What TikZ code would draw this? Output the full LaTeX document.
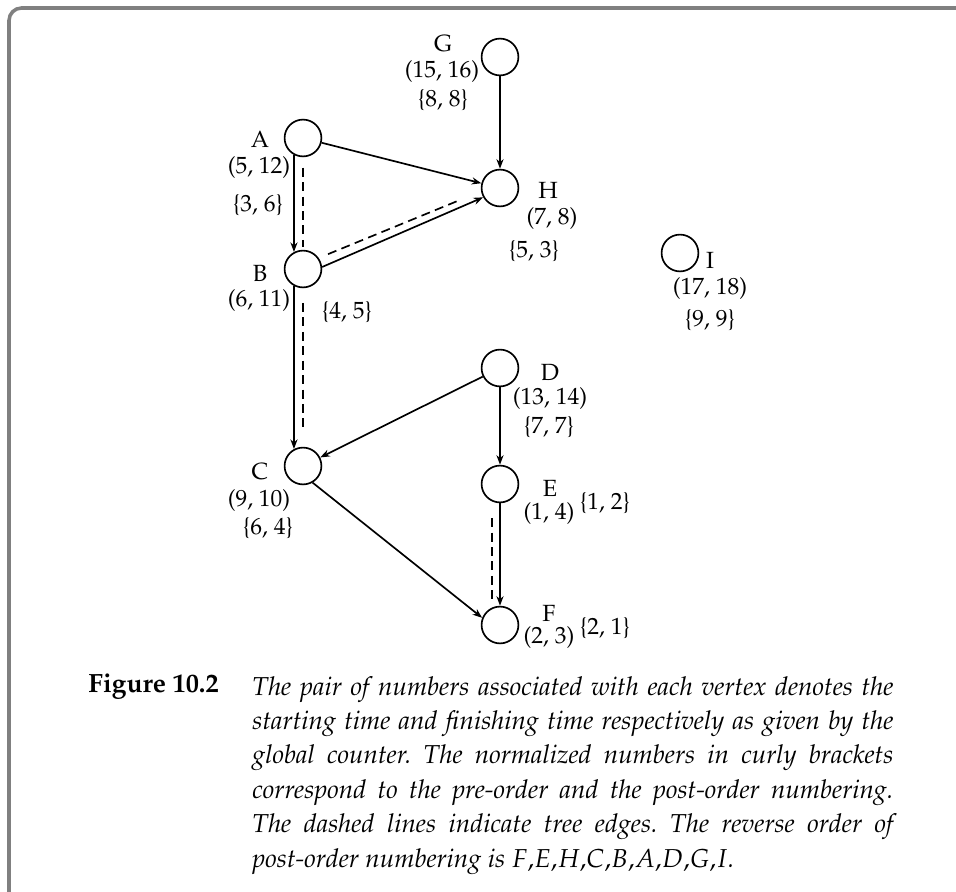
\documentclass[tikz,border=0pt]{standalone}
\usepackage[T1]{fontenc}
\usepackage{mathpazo}
\usetikzlibrary{arrows.meta}
\frenchspacing
\definecolor{framegrey}{HTML}{808080}
\tikzset{
  >={Stealth[length=4.6pt,width=3.4pt]},
  vertex/.style={draw,circle,line width=0.8pt,minimum size=17.6pt,inner sep=0pt},
  lbl/.style={inner sep=0pt,font=\fontsize{11.2}{13}\selectfont},
  arc/.style={->,line width=0.8pt},
  tree/.style={line width=0.8pt,dash pattern=on 4.3pt off 2.6pt},
  boxline/.style={draw=framegrey,line width=1.7pt,rounded corners=6pt},
  caption/.style={inner sep=0pt,text width=306.4pt,align=justify,
                  font=\fontsize{12.4}{16.44}\selectfont\itshape},
}

\begin{document}
\begin{tikzpicture}[x=0.478pt,y=-0.478pt]
  \useasboundingbox (0,0) rectangle (956,892);
  \draw[boxline] (9,892) -- (9,8) -- (956,8);

  % vertices
  \node[vertex] (G) at (500,57) {};
  \node[vertex] (A) at (303,138) {};
  \node[vertex] (H) at (500,188) {};
  \node[vertex] (B) at (303,269) {};
  \node[vertex] (I) at (680,253) {};
  \node[vertex] (D) at (500,368) {};
  \node[vertex] (C) at (303,466) {};
  \node[vertex] (E) at (500,484) {};
  \node[vertex] (F) at (500,625) {};

  % (start, finish) and {pre, post}
  \node[lbl] (Gname) at (443,44) {G};
  \node[lbl] (Gtime) at (442,71) {(15, 16)};
  \node[lbl] (Gord) at (443,100) {\{8, 8\}};
  \node[lbl] (Aname) at (260,139) {A};
  \node[lbl] (Atime) at (259,167) {(5, 12)};
  \node[lbl] (Aord) at (258,205) {\{3, 6\}};
  \node[lbl] (Hname) at (548,190) {H};
  \node[lbl] (Htime) at (552,218) {(7, 8)};
  \node[lbl] (Hord) at (534,251) {\{5, 3\}};
  \node[lbl] (Bname) at (260,273) {B};
  \node[lbl] (Btime) at (259,300) {(6, 11)};
  \node[lbl] (Bord) at (347,312) {\{4, 5\}};
  \node[lbl] (Iname) at (710,260) {I};
  \node[lbl] (Itime) at (710,288) {(17, 18)};
  \node[lbl] (Iord) at (710,320) {\{9, 9\}};
  \node[lbl] (Dname) at (550,372) {D};
  \node[lbl] (Dtime) at (550,398) {(13, 14)};
  \node[lbl] (Dord) at (549,427) {\{7, 7\}};
  \node[lbl] (Cname) at (260,472) {C};
  \node[lbl] (Ctime) at (259,500) {(9, 10)};
  \node[lbl] (Cord) at (268,528) {\{6, 4\}};
  \node[lbl] (Ename) at (550,488) {E};
  \node[lbl] (Etime) at (549,513) {(1, 4)};
  \node[lbl] (Eord) at (605,503) {\{1, 2\}};
  \node[lbl] (Fname) at (549,613) {F};
  \node[lbl] (Ftime) at (549,637) {(2, 3)};
  \node[lbl] (Ford) at (605,628) {\{2, 1\}};

  \draw[arc] (G) -- (H);
  \draw[arc] (A) -- (H);
  \draw[arc] (A.242) -- (B.118);
  \draw[tree,shorten <=5pt,shorten >=1.5pt] (A) -- (B);
  \draw[arc] (B.6) -- (H.209);
  \draw[tree,shorten <=4.8pt,shorten >=11pt] (B.35) -- (H.190);
  \draw[arc] (B.242) -- (C.118);
  \draw[tree,shorten <=7pt,shorten >=9.5pt] (B) -- (C);
  \draw[arc] (D) -- (C);
  \draw[arc] (D) -- (E);
  \draw[arc] (C.-60) -- (F.158);
  \draw[arc] (E) -- (F);
  \draw[tree,shorten <=8pt,shorten >=4pt] (E.245) -- (F.115);

  % caption
  \node[inner sep=0pt,anchor=base west,font=\fontsize{12.6}{15}\selectfont\bfseries]
    (fig) at (88,692) {Figure 10.2};
  \node[caption,anchor=north west] (cap) at (252,676)
    {The pair of numbers associated with each vertex denotes the\linebreak
     starting time and finishing time respectively as given by the\linebreak
     global counter. The normalized numbers in curly brackets\linebreak
     correspond to the pre-order and the post-order numbering.\linebreak
     The dashed lines indicate tree edges. The reverse order of\linebreak
     post-order numbering is $F{,}E{,}H{,}C{,}B{,}A{,}D{,}G{,}I$.};
\end{tikzpicture}
\end{document}
